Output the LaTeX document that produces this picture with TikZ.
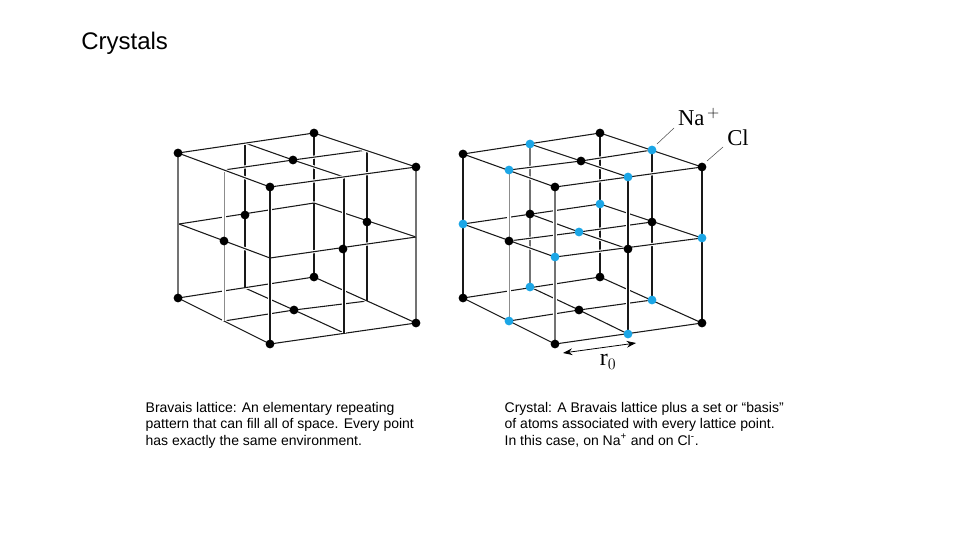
\documentclass[tikz,border=0pt]{standalone}
\usepackage{fontspec}
\setmainfont{Liberation Sans}
\newfontfamily\labelfont{Liberation Serif}
\usetikzlibrary{arrows.meta, positioning}
\definecolor{naBlue}{HTML}{1BA6E6}
% Grid lines of one plane; #1 is the prefix of its coordinates
\newcommand{\planemids}[1]{\draw[grid] (#112) -- (#111) -- (#110); \draw[grid] (#101) -- (#111) -- (#121);}
\newcommand{\planeedges}[1]{\draw[grid] (#102) -- (#122) -- (#120) -- (#100) -- cycle;}
\newcommand{\planeback}[1]{\draw[white, line width=2.4pt] (#102) -- (#100) -- (#120); \draw[grid] (#102) -- (#122) -- (#120);}
\newcommand{\planefront}[1]{\draw[plain] (#102) -- (#100) -- (#120);}

\begin{document}
\begin{tikzpicture}[x=0.75pt, y=-0.75pt,
    >={Stealth[length=7pt, width=5pt]},
    plain/.style={black!90, line width=0.8pt},
    grid/.style={plain, preaction={draw=white, line width=2.4pt}},
    front/.style={plain, preaction={draw=white, line width=2.4pt}},
    heavy/.style={line width=1.2pt, black!55},
    heavyb/.style={heavy, preaction={draw=white, line width=2.4pt}},
    paleb/.style={line width=0.6pt, black!45, preaction={draw=white, line width=2.4pt}},
    atom/.style={circle, fill=black, inner sep=0pt, minimum size=6.6pt},
    naatom/.style={atom, fill=naBlue},
    leader/.style={line width=0.4pt, black!70},
    caption/.style={anchor=north west, inner sep=0pt, align=left, font=\fontsize{10.5}{12.4}\selectfont},
]
\useasboundingbox (0,0) rectangle (960,540);

\node[anchor=base west, inner sep=0pt, font=\fontsize{18}{21}\selectfont] (title) at (81,49) {Crystals};

% --- Bravais lattice
\foreach \nm/\x/\y in {Lt00/270/187, Lt10/344/177, Lt20/416/167, Lt01/224/170, Lt11/293/160, Lt21/367/150, Lt02/178/153, Lt12/245/143, Lt22/314/133,
    Lm00/270/258, Lm10/343/249, Lm20/416/237, Lm01/224/241, Lm21/367/222, Lm02/179/224, Lm12/245/215, Lm22/314/203,
    Lb00/270/344, Lb10/344/333, Lb20/416/323, Lb01/224/321, Lb11/294/310, Lb21/367/301, Lb02/178/298, Lb12/245/288, Lb22/314/277}
    \coordinate (\nm) at (\x,\y);

\planemids{Lb}
\planeedges{Lb}
\foreach \v in {22,12,21} \draw[plain] (Lt\v) -- (Lb\v);
\planeback{Lm}
\draw[plain] (Lm22) -- ++(0,4);
\foreach \v in {00,10} \draw[front, line width=1pt] (Lt\v) -- (Lb\v);
\draw[paleb] (Lt01) -- (Lb01);
\foreach \v in {02,20} \draw[heavy] (Lt\v) -- (Lb\v);
\planefront{Lm}
\planemids{Lt}
\planeedges{Lt}

\foreach \v in {Lt00,Lt20,Lt02,Lt22,Lt11,Lm10,Lm01,Lm21,Lm12,Lb00,Lb20,Lb02,Lb22,Lb11}
    \node[atom] (a\v) at (\v) {};

% --- Crystal
\foreach \nm/\x/\y in {Rt00/555/187, Rt10/628/177, Rt20/702/167, Rt01/509/170, Rt11/581/161, Rt21/652/150, Rt02/463/154, Rt12/530/144, Rt22/600/133,
    Rm00/555/257, Rm10/628/249, Rm20/702/238, Rm01/509/241, Rm11/579/232, Rm21/652/222, Rm02/463/224, Rm12/530/214, Rm22/600/204,
    Rb00/555/344, Rb10/628/334, Rb20/702/323, Rb01/509/321, Rb11/579/310, Rb21/652/300, Rb02/463/298, Rb12/530/287, Rb22/600/277}
    \coordinate (\nm) at (\x,\y);

\planemids{Rb}
\planeedges{Rb}
\foreach \v in {22,21} \draw[plain] (Rt\v) -- (Rb\v);
\draw[heavy] (Rt12) -- (Rb12);
\planemids{Rm}
\planeback{Rm}
\draw[front] (Rt10) -- (Rb10);
\draw[paleb] (Rt01) -- (Rb01);
\draw[heavyb] (Rt00) -- (Rb00);
\foreach \v in {02,20} \draw[plain] (Rt\v) -- (Rb\v);
\planefront{Rm}
\planemids{Rt}
\planeedges{Rt}

\foreach \v in {Rt00,Rt20,Rt02,Rt22,Rt11,Rm10,Rm01,Rm21,Rm12,Rb00,Rb20,Rb02,Rb22,Rb11}
    \node[atom] (a\v) at (\v) {};
\foreach \v in {Rt10,Rt01,Rt21,Rt12,Rm00,Rm20,Rm02,Rm22,Rm11,Rb10,Rb01,Rb21,Rb12}
    \node[naatom] (a\v) at (\v) {};

% Labels and leaders
\node[inner sep=0pt, font=\labelfont\fontsize{17}{17}\selectfont] (naLabel) at (699,117) {Na$^{\,+}$};
\node[inner sep=0pt, font=\labelfont\fontsize{17}{17}\selectfont] (clLabel) at (738,138) {Cl};
\coordinate (naFoot) at (657,144);
\coordinate (naHead) at (674,128);
\coordinate (clFoot) at (707,161);
\coordinate (clHead) at (723,147);
\draw[leader] (naFoot) -- (naHead);
\draw[leader] (clFoot) -- (clHead);

\coordinate (rLeft) at (563,353);
\coordinate (rRight) at (636,343);
\draw[<->, line width=0.6pt] (rLeft) -- (rRight);
\node[inner sep=0pt, font=\labelfont\fontsize{18}{18}\selectfont] (rLabel) at (608,362) {r$_{0}$};

% Captions
\node[caption] (bravaisText) at (145.4,401.6) {Bravais lattice: An elementary repeating\\pattern that can fill all of space. Every point\\has exactly the same environment.};
\node[caption] (crystalText) at (504.4,401.6) {Crystal: A Bravais lattice plus a set or “basis”\\of atoms associated with every lattice point.\\In this case, on Na\textsuperscript{+} and on Cl\textsuperscript{-}.};
\end{tikzpicture}
\end{document}
